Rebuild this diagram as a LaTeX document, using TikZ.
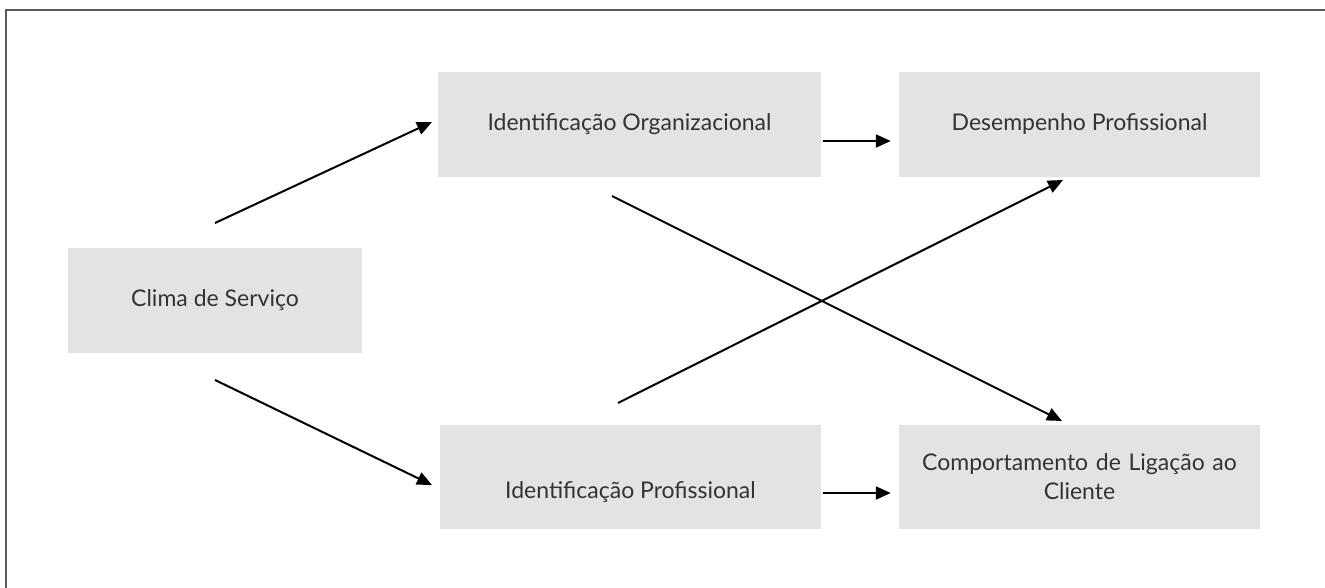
\documentclass[tikz,border=0pt]{standalone}
\usepackage{fontspec}
\setmainfont{Lato}
\usetikzlibrary{arrows.meta}
\definecolor{boxgray}{HTML}{E3E3E3}
\definecolor{txtgray}{HTML}{333333}
\definecolor{framegray}{HTML}{5A5A5A}
\begin{document}
\begin{tikzpicture}[x=1pt,y=-1pt,
  box/.style={fill=boxgray, draw=none, minimum height=105pt, inner sep=0pt,
    text=txtgray, font=\fontsize{23}{29}\selectfont, align=center},
  lbl/.style={text=txtgray, font=\fontsize{23}{29}\selectfont, inner sep=0pt},
  arr/.style={draw=black, line width=2pt, -{Triangle[length=15pt,width=13pt]}}]
\useasboundingbox (0,0) rectangle (1325,588);
\draw[framegray, line width=2pt] (6,588) -- (6,10) -- (1325,10);

\node[box, minimum width=294pt] (clima) at (215,300.5) {Clima de Serviço};
\node[box, minimum width=383pt] (io) at (629.5,124.5) {Identificação Organizacional};
\node[box, minimum width=361pt] (dp) at (1079.5,124.5) {Desempenho Profissional};
\node[box, minimum width=381pt, minimum height=104pt,
  label={[lbl, yshift=-16pt]center:Identificação Profissional}] (ip) at (630.5,476.5) {};
\node[box, minimum width=361pt, minimum height=104pt, text width=350pt] (cl) at (1079.5,476.5)
  {Comportamento de Ligação ao\\Cliente};

\coordinate (c1s) at (215,223);
\coordinate (c1e) at (432,122);
\coordinate (c2s) at (215,380);
\coordinate (c2e) at (432,485);
\coordinate (x1s) at (612,196);
\coordinate (x1e) at (1062,421);
\coordinate (x2s) at (618,403);
\coordinate (x2e) at (1063,180);

\draw[arr] (c1s) -- (c1e);
\draw[arr] (c2s) -- (c2e);
\draw[arr] ([xshift=2pt,yshift=-16.5pt]io.east) -- ([xshift=-8pt,yshift=-16.5pt]dp.west);
\draw[arr] ([xshift=2pt,yshift=-16.5pt]ip.east) -- ([xshift=-8pt,yshift=-16.5pt]cl.west);
\draw[arr] (x1s) -- (x1e);
\draw[arr] (x2s) -- (x2e);
\end{tikzpicture}
\end{document}
